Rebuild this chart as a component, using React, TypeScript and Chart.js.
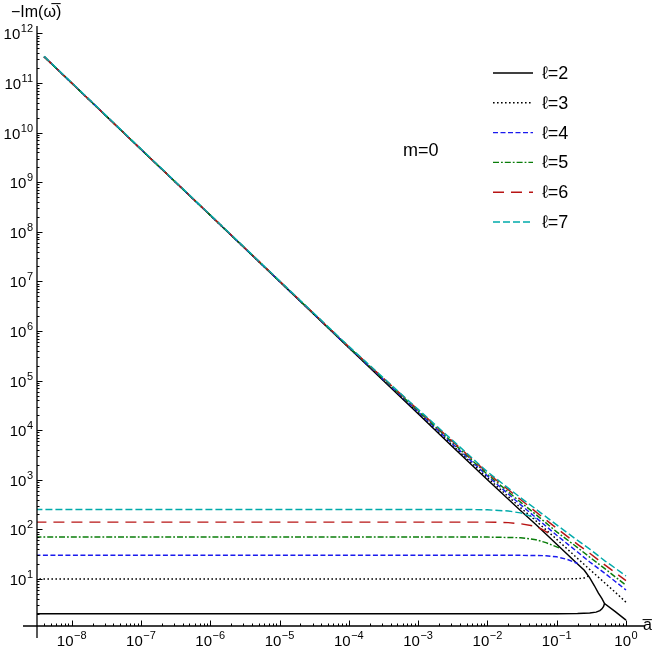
import React, { useEffect, useRef } from 'react';
import { Chart, registerables } from 'chart.js';

Chart.register(...registerables);

const FONT = '"Liberation Sans", Arial, Helvetica, sans-serif';

// ---- data ----
const ells = [2, 3, 4, 5, 6, 7];
const legendLabels = ['ℓ=2', 'ℓ=3', 'ℓ=4', 'ℓ=5', 'ℓ=6', 'ℓ=7'];
const lineColors = ['#000000', '#000000', '#1a1aee', '#0a7d0a', '#b81414', '#00aaaa'];
const lineDashes: number[][] = [[], [1.6, 2.4], [5, 2.5], [6, 2, 1.8, 2], [11, 7], [7, 3]];

// upper (power-law) branches
const aUpper2 = [4e-9, 1e-8, 1e-7, 1e-6, 1e-5, 1e-4, 1e-3, 3e-3, 0.01, 0.03, 0.05, 0.1, 0.2, 0.25, 0.3, 0.35, 0.4, 0.45, 0.49, 0.7, 1];
const upper2 = [3.4e11, 1.0e11, 4.6e9, 2.15e8, 1.0e7, 4.6e5, 2.15e4, 4.9e3, 1.0e3, 240, 125, 50, 20, 15, 10.5, 7.3, 5.2, 4.0, 3.2, 2.2, 1.48];

const aUpper = [4e-9, 1e-8, 1e-7, 1e-6, 1e-5, 1e-4, 1e-3, 3e-3, 0.01, 0.03, 0.05, 0.1, 0.2, 0.3, 0.5, 0.7, 1];
const upper3 = [3.4e11, 1.0e11, 4.6e9, 2.15e8, 1.0e7, 4.65e5, 2.24e4, 5.25e3, 1.1e3, 275, 149, 63, 26, 15.5, 8.2, 5.4, 3.4];
const upper4 = [3.4e11, 1.0e11, 4.6e9, 2.16e8, 1.0e7, 4.7e5, 2.34e4, 5.6e3, 1.2e3, 316, 173, 76, 35, 22, 12.9, 8.9, 6.0];
const upper5 = [3.4e11, 1.0e11, 4.6e9, 2.17e8, 1.01e7, 4.75e5, 2.45e4, 6.0e3, 1.29e3, 355, 200, 89, 43, 27.5, 16, 11, 7.5];
const upper6 = [3.4e11, 1.0e11, 4.6e9, 2.18e8, 1.02e7, 4.8e5, 2.57e4, 6.3e3, 1.38e3, 400, 226, 105, 50, 33, 19, 13.4, 9.3];
const upper7 = [3.45e11, 1.02e11, 4.7e9, 2.2e8, 1.03e7, 4.9e5, 2.63e4, 6.6e3, 1.45e3, 437, 257, 123, 60, 40, 23, 16.5, 11.5];

// lower (flat) branches
const aLower2 = [3e-9, 0.1, 0.2, 0.3, 0.37, 0.42, 0.45, 0.475, 0.49];
const lower2 = [2, 2, 2.02, 2.07, 2.15, 2.3, 2.5, 2.8, 3.2];
const aLower3 = [3e-9, 0.1, 0.2, 0.25, 0.29];
const lower3 = [10, 10, 10.1, 10.5, 11.5];
const aLower4 = [3e-9, 0.03, 0.07, 0.1, 0.14, 0.17, 0.2];
const lower4 = [30, 30, 29.5, 28, 25, 22.5, 20.5];
const aLower5 = [3e-9, 0.01, 0.03, 0.05, 0.07, 0.09, 0.115];
const lower5 = [70, 70, 68, 62, 54, 47, 41];
const aLower6 = [3e-9, 0.01, 0.02, 0.03, 0.045, 0.06, 0.075];
const lower6 = [140, 140, 137, 130, 118, 102, 85];
const aLower7 = [3e-9, 0.005, 0.01, 0.02, 0.03, 0.04, 0.05];
const lower7 = [252, 252, 248, 235, 215, 190, 165];

const upperX = [aUpper2, aUpper, aUpper, aUpper, aUpper, aUpper];
const upperY = [upper2, upper3, upper4, upper5, upper6, upper7];
const lowerX = [aLower2, aLower3, aLower4, aLower5, aLower6, aLower7];
const lowerY = [lower2, lower3, lower4, lower5, lower6, lower7];

const xRange = [3.162e-9, 1.88];
const yRange = [1.128, 1.41e12];

function buildLogTicks(min: number, max: number) {
  const ticks: { value: number; major: boolean }[] = [];
  const e0 = Math.floor(Math.log10(min));
  const e1 = Math.ceil(Math.log10(max));
  for (let e = e0; e <= e1; e++) {
    for (let m = 1; m <= 9; m++) {
      const v = Number(`${m}e${e}`);
      if (v >= min * 0.99999 && v <= max * 1.00001) ticks.push({ value: v, major: m === 1 });
    }
  }
  return ticks;
}

function exponentOf(value: number): number | null {
  const e = Math.round(Math.log10(value));
  if (Math.abs(value / Math.pow(10, e) - 1) < 1e-6) return e;
  return null;
}

const BASE_FONT = `15px ${FONT}`;
const EXP_FONT = `11px ${FONT}`;

function drawPower(ctx: CanvasRenderingContext2D, e: number, x: number, baseline: number, align: 'center' | 'right') {
  const expText = e < 0 ? '−' + String(-e) : String(e);
  ctx.font = BASE_FONT;
  const wBase = ctx.measureText('10').width;
  ctx.font = EXP_FONT;
  const wExp = ctx.measureText(expText).width;
  const total = wBase + 0.5 + wExp;
  const x0 = align === 'center' ? x - total / 2 : x - total;
  ctx.textAlign = 'left';
  ctx.textBaseline = 'alphabetic';
  ctx.font = BASE_FONT;
  ctx.fillText('10', x0, baseline);
  ctx.font = EXP_FONT;
  ctx.fillText(expText, x0 + wBase + 0.5, baseline - 7);
}

const decorPlugin = {
  id: 'decor',
  afterDraw(chart: any) {
    const { ctx, chartArea } = chart;
    const xs = chart.scales.x;
    const ys = chart.scales.y;
    const { left, right, top, bottom } = chartArea;
    ctx.save();
    ctx.strokeStyle = '#000';
    ctx.lineWidth = 1.3;
    ctx.setLineDash([]);
    // axes
    ctx.beginPath();
    ctx.moveTo(left, top);
    ctx.lineTo(left, bottom + 12);
    ctx.moveTo(left - 14, bottom);
    ctx.lineTo(right, bottom);
    ctx.stroke();
    // ticks
    ctx.lineWidth = 1;
    ctx.beginPath();
    for (const t of xs.ticks) {
      const px = Math.round(xs.getPixelForValue(t.value)) + 0.5;
      const len = t.major ? 5.5 : 2.5;
      ctx.moveTo(px, bottom);
      ctx.lineTo(px, bottom - len);
    }
    for (const t of ys.ticks) {
      const py = Math.round(ys.getPixelForValue(t.value)) + 0.5;
      const len = t.major ? 5.5 : 2.5;
      ctx.moveTo(left, py);
      ctx.lineTo(left + len, py);
    }
    ctx.stroke();

    // tick labels (10 with superscript exponent)
    ctx.fillStyle = '#000';
    for (const t of xs.ticks) {
      const e = exponentOf(t.value);
      if (e === null) continue;
      drawPower(ctx, e, xs.getPixelForValue(t.value), bottom + 20, 'center');
    }
    for (const t of ys.ticks) {
      const e = exponentOf(t.value);
      if (e === null) continue;
      drawPower(ctx, e, left - 4, ys.getPixelForValue(t.value) + 6, 'right');
    }

    // axis titles
    ctx.font = `16px ${FONT}`;
    ctx.textBaseline = 'middle';
    ctx.textAlign = 'left';
    ctx.fillText('−Im(ω̅)', 11, 13);
    ctx.fillText('a̅', 643, 626);

    // annotation
    ctx.font = `18px ${FONT}`;
    ctx.fillText('m=0', 403, 151);

    // legend
    legendLabels.forEach((lab, i) => {
      const y = 73 + i * 29.8;
      ctx.strokeStyle = lineColors[i];
      ctx.lineWidth = 1.4;
      ctx.setLineDash(lineDashes[i]);
      ctx.beginPath();
      ctx.moveTo(493, y);
      ctx.lineTo(533, y);
      ctx.stroke();
      ctx.setLineDash([]);
      ctx.fillStyle = '#000';
      ctx.font = `18px ${FONT}`;
      ctx.fillText(lab, 542, y + 1);
    });
    ctx.restore();
  },
};

export default function App() {
  const ref = useRef<HTMLCanvasElement | null>(null);
  useEffect(() => {
    if (!ref.current) return;
    const datasets: any[] = [];
    ells.forEach((ell, i) => {
      const base = {
        borderColor: lineColors[i],
        borderDash: lineDashes[i],
        borderWidth: 1.45,
        pointRadius: 0,
        fill: false,
        tension: 0,
        order: 10 - ell,
      };
      datasets.push({
        ...base,
        label: legendLabels[i] + ' upper',
        data: upperX[i].map((a, k) => ({ x: a, y: upperY[i][k] })),
      });
      datasets.push({
        ...base,
        label: legendLabels[i] + ' lower',
        data: lowerX[i].map((a, k) => ({ x: a, y: lowerY[i][k] })),
      });
    });
    const chart = new Chart(ref.current, {
      type: 'line',
      data: { datasets },
      options: {
        animation: false,
        responsive: false,
        layout: { padding: { top: 26, right: 10, left: 0, bottom: 0 } },
        plugins: { legend: { display: false }, tooltip: { enabled: false } },
        scales: {
          x: {
            type: 'logarithmic',
            min: xRange[0],
            max: xRange[1],
            bounds: 'data',
            grid: { display: false, drawTicks: false },
            border: { display: false },
            afterBuildTicks: (scale: any) => {
              scale.ticks = buildLogTicks(scale.min, scale.max);
            },
            afterFit: (scale: any) => {
              scale.height = 30;
            },
            ticks: {
              autoSkip: false,
              maxRotation: 0,
              callback: () => '',
            },
          },
          y: {
            type: 'logarithmic',
            min: yRange[0],
            max: yRange[1],
            bounds: 'data',
            grid: { display: false, drawTicks: false },
            border: { display: false },
            afterBuildTicks: (scale: any) => {
              scale.ticks = buildLogTicks(scale.min, scale.max);
            },
            afterFit: (scale: any) => {
              scale.width = 37;
            },
            ticks: {
              autoSkip: false,
              callback: () => '',
            },
          },
        },
      },
      plugins: [decorPlugin],
    });
    return () => chart.destroy();
  }, []);
  return (
    <div style={{ position: 'fixed', left: 0, top: 0, width: 655, height: 656, background: '#fff' }}>
      <canvas ref={ref} width={655} height={656} style={{ display: 'block' }} />
    </div>
  );
}
